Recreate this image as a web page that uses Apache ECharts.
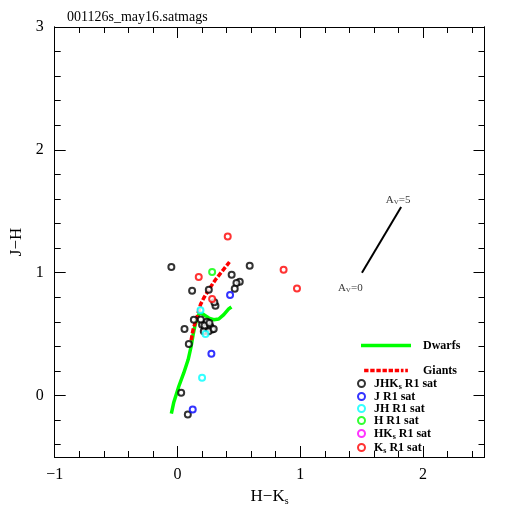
<!DOCTYPE html>
<html>
<head>
<meta charset="utf-8">
<script src="https://cdn.jsdelivr.net/npm/echarts@6/dist/echarts.min.js"></script>
<style>
html, body { margin: 0; padding: 0; background: #fff; }
#chart { width: 512px; height: 512px; }
</style>
</head>
<body>
<div id="chart"></div>
<script>
var titleText = '001126s_may16.satmags';

// tick values
var xMajor = [-1, 0, 1, 2];
var xMinor = [-0.8, -0.6, -0.4, -0.2, 0.2, 0.4, 0.6, 0.8, 1.2, 1.4, 1.6, 1.8, 2.2, 2.4];
var yMajor = [0, 1, 2, 3];
var yMinor = [-0.4, -0.2, 0.2, 0.4, 0.6, 0.8, 1.2, 1.4, 1.6, 1.8, 2.2, 2.4, 2.6, 2.8];

// loci [H-Ks, J-H]
var dwarfs = [[-0.05, -0.146], [-0.03, -0.054], [0.011, 0.076], [0.051, 0.184], [0.087, 0.293],
	[0.111, 0.401], [0.127, 0.496], [0.141, 0.564], [0.16, 0.631], [0.181, 0.677], [0.214, 0.659],
	[0.255, 0.631], [0.295, 0.618], [0.336, 0.623], [0.377, 0.659], [0.417, 0.705], [0.439, 0.721]];
var giants = [[0.111, 0.45], [0.127, 0.537], [0.16, 0.645], [0.187, 0.74], [0.214, 0.794],
	[0.255, 0.862], [0.309, 0.943], [0.363, 1.011], [0.423, 1.087]];
var redVector = [[1.502, 1.0], [1.821, 1.534]];

// saturated stars
var satJHK = [[-0.05, 1.046], [0.588, 1.057], [0.441, 0.984], [0.507, 0.927], [0.48, 0.916],
	[0.466, 0.87], [0.119, 0.854], [0.255, 0.862], [0.309, 0.732], [0.30, 0.759], [0.133, 0.618],
	[0.057, 0.542], [0.2, 0.577], [0.228, 0.55], [0.268, 0.563], [0.282, 0.537], [0.214, 0.523],
	[0.254, 0.523], [0.295, 0.542], [0.19, 0.62], [0.24, 0.6], [0.22, 0.57], [0.26, 0.59],
	[0.092, 0.42], [0.03, 0.022], [0.084, -0.154]];
var satJ = [[0.428, 0.818], [0.276, 0.341], [0.124, -0.114]];
var satJH = [[0.187, 0.694], [0.228, 0.501], [0.2, 0.146]];
var satH = [[0.282, 1.005]];
var satHK = [];
var satK = [[0.409, 1.295], [0.864, 1.024], [0.973, 0.872], [0.173, 0.965], [0.282, 0.786]];

var avLabels = [[1.407, 0.878, '0'], [1.797, 1.593, '5']];

var font = 'Liberation Serif';
var chart = echarts.init(document.getElementById('chart'));

function fmtNum(v) {
	return (v < 0 ? '\u2212' : '') + Math.abs(v);
}

function xAxisDef(pos, ticks, len, labels) {
	return {
		type: 'value', position: pos, min: -1, max: 2.5,
		axisLine: { show: true, onZero: false, lineStyle: { color: '#000', width: 1 } },
		axisTick: { show: true, inside: true, length: len, customValues: ticks, lineStyle: { color: '#000' } },
		axisLabel: labels ? { show: true, customValues: labels, formatter: fmtNum, color: '#000', fontSize: 16, fontFamily: font, margin: 10 } : { show: false },
		splitLine: { show: false }
	};
}
function yAxisDef(pos, ticks, len, labels) {
	return {
		type: 'value', position: pos, min: -0.5, max: 3,
		axisLine: { show: true, onZero: false, lineStyle: { color: '#000', width: 1 } },
		axisTick: { show: true, inside: true, length: len, customValues: ticks, lineStyle: { color: '#000' } },
		axisLabel: labels ? { show: true, customValues: labels, formatter: fmtNum, color: '#000', fontSize: 16, fontFamily: font, margin: 11 } : { show: false },
		splitLine: { show: false }
	};
}

var xAxes = [xAxisDef('bottom', xMajor, 11, xMajor), xAxisDef('bottom', xMinor, 6), xAxisDef('top', xMajor, 11), xAxisDef('top', xMinor, 6)];
xAxes[0].name = '{a|H\u2212K}{s|s}';
xAxes[0].nameLocation = 'middle';
xAxes[0].nameGap = 27;
xAxes[0].nameTextStyle = { rich: { a: { fontSize: 17, fontFamily: font, color: '#000' }, s: { fontSize: 10, fontFamily: font, color: '#000', padding: [10, 0, 0, 0] } } };

var yAxes = [yAxisDef('left', yMajor, 11, yMajor), yAxisDef('left', yMinor, 6), yAxisDef('right', yMajor, 11), yAxisDef('right', yMinor, 6)];
yAxes[0].name = 'J\u2212H';
yAxes[0].nameLocation = 'middle';
yAxes[0].nameGap = 25;
yAxes[0].nameTextStyle = { fontSize: 17, fontFamily: font, color: '#000' };

function satSeries(name, data, color) {
	return {
		name: name, type: 'scatter', data: data, symbol: 'circle', symbolSize: 6,
		itemStyle: { color: '#fff', borderColor: color, borderWidth: 2 },
		z: 5
	};
}

var subRich = {
	n: { fontSize: 12, fontWeight: 'bold', fontFamily: font, color: '#000', lineHeight: 12 },
	s: { fontSize: 8, fontWeight: 'bold', fontFamily: font, color: '#000', lineHeight: 12, padding: [6, 0, 0, 0] }
};
var legendText = {
	'JHKs R1 sat': '{n|JHK}{s|s}{n| R1 sat}',
	'J R1 sat': '{n|J R1 sat}',
	'JH R1 sat': '{n|JH R1 sat}',
	'H R1 sat': '{n|H R1 sat}',
	'HKs R1 sat': '{n|HK}{s|s}{n| R1 sat}',
	'Ks R1 sat': '{n|K}{s|s}{n| R1 sat}',
	'Dwarfs': '{n|Dwarfs}',
	'Giants': '{n|Giants}'
};

var dashIcon = 'path://M0,0h5v4h-5zM7,0h5v4h-5zM14,0h5v4h-5zM21,0h5v4h-5zM28,0h5v4h-5zM35,0h5v4h-5zM42,0h3v4h-3zM47,0h3v4h-3z';

var option = {
	animation: false,
	backgroundColor: '#fff',
	title: {
		text: titleText, left: 67, top: 10, padding: 0,
		textStyle: { fontSize: 14, fontWeight: 'normal', fontFamily: font, color: '#000' }
	},
	grid: { left: 54.7, right: 27.5, top: 27, bottom: 55, containLabel: false, outerBoundsMode: 'none' },
	xAxis: xAxes,
	yAxis: yAxes,
	legend: [{
		data: [{ name: 'Dwarfs', icon: 'rect' }, { name: 'Giants', icon: dashIcon }],
		orient: 'vertical', left: 361, top: 339.5, padding: 0,
		itemWidth: 50, itemHeight: 3.5, itemGap: 13, selectedMode: false,
		formatter: function (n) { return legendText[n]; },
		textStyle: { padding: [0, 0, 0, 7], rich: subRich }
	}, {
		data: ['JHKs R1 sat', 'J R1 sat', 'JH R1 sat', 'H R1 sat', 'HKs R1 sat', 'Ks R1 sat'],
		orient: 'vertical', left: 357, top: 376.5, padding: 0,
		itemWidth: 7, itemHeight: 7, itemGap: 0, selectedMode: false,
		formatter: function (n) { return legendText[n]; },
		textStyle: { padding: [0, 0, 0, 4], rich: subRich }
	}],
	series: [
		{
			name: 'Dwarfs', type: 'line', data: dwarfs, symbol: 'none', z: 3,
			itemStyle: { color: '#00ff00' },
			lineStyle: { color: '#00ff00', width: 3.5 }
		},
		{
			name: 'Giants', type: 'line', data: giants, symbol: 'none', z: 4,
			itemStyle: { color: '#ff0000' },
			lineStyle: { color: '#ff0000', width: 3.5, type: [5, 2] }
		},
		{
			name: 'reddening', type: 'line', data: redVector, symbol: 'none', z: 3,
			lineStyle: { color: '#000', width: 2 }
		},
		{
			name: 'avlabels', type: 'scatter', symbolSize: 0, silent: true,
			data: avLabels,
			label: {
				show: true, position: 'inside',
				formatter: function (p) { return '{a|A}{v|V}{a|=' + p.data[2] + '}'; },
				rich: {
					a: { fontSize: 11, fontFamily: font, color: '#000', lineHeight: 12 },
					v: { fontSize: 7, fontFamily: font, color: '#000', lineHeight: 12, padding: [5, 0, 0, 0] }
				}
			}
		},
		satSeries('JHKs R1 sat', satJHK, '#000000'),
		satSeries('J R1 sat', satJ, '#0000ff'),
		satSeries('JH R1 sat', satJH, '#00ffff'),
		satSeries('H R1 sat', satH, '#00ff00'),
		satSeries('HKs R1 sat', satHK, '#ff00ff'),
		satSeries('Ks R1 sat', satK, '#ff0000')
	]
};

chart.setOption(option);
</script>
</body>
</html>
